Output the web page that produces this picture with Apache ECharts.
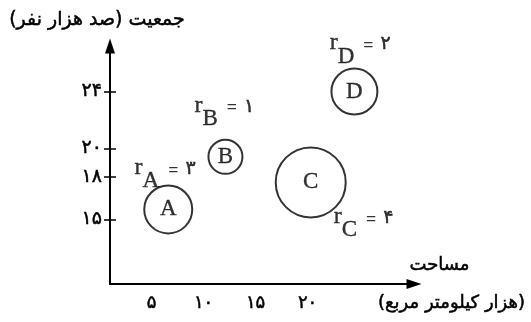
<!DOCTYPE html>
<html>
<head>
<meta charset="utf-8">
<script src="https://cdn.jsdelivr.net/npm/echarts@6/dist/echarts.min.js"></script>
<style>
html,body{margin:0;padding:0;background:#fff;}
#chart{width:531px;height:322px;}
</style>
</head>
<body>
<div id="chart"></div>
<script>
// ---- data ----
const regions = ['A', 'B', 'C', 'D'];
const areaValues = [6.6, 12.1, 20.3, 24.5];        // x: هزار کیلومتر مربع
const populationValues = [15.7, 19.4, 17.6, 24];   // y: صد هزار نفر
const radiusLabels = ['۳', '۱', '۴', '۲'];
const xTickValues = [5, 10, 15, 20];
const xTickLabels = ['۵', '۱۰', '۱۵', '۲۰'];
const yTickValues = [15, 18, 20, 24];
const yTickLabels = ['۱۵', '۱۸', '۲۰', '۲۴'];
const yAxisTitle = 'جمعیت (صد هزار نفر)';
const xAxisTitle1 = 'مساحت';
const xAxisTitle2 = '(هزار کیلومتر مربع)';

// ---- styles (pixel sizes / offsets of annotations) ----
const bubbleDiameter = {A: 48, B: 34, C: 70, D: 46};
const annotationOffset = {A: [-3, -35], B: [-1, -45], C: [53, 41], D: [6, -42]};

const persianFont = 'DejaVu Sans';
const serifFont = 'Liberation Serif';
const ink = '#000';
const heavy = {textBorderColor: ink, textBorderWidth: 0.5};
const semi = {textBorderColor: ink, textBorderWidth: 0.35};

const points = regions.map((r, i) => [areaValues[i], populationValues[i], r, radiusLabels[i]]);

const chart = echarts.init(document.getElementById('chart'), null, {renderer: 'canvas'});

const yLabelMap = {};
yTickValues.forEach((v, i) => { yLabelMap[v] = yTickLabels[i]; });
const xLabelMap = {};
xTickValues.forEach((v, i) => { xLabelMap[v] = xTickLabels[i]; });

const yMin = 10.45, yMax = 27.2;
const xMin = 1, xMax = 30.23;

const axisLineStyle = {color: ink, width: 2};

chart.setOption({
  animation: false,
  backgroundColor: '#fff',
  grid: {left: 110, right: 117, top: 46, bottom: 38, containLabel: false},
  xAxis: {
    type: 'value', min: xMin, max: xMax,
    name: '{a|' + xAxisTitle1 + '}\n{b|' + xAxisTitle2 + '}',
    nameLocation: 'end', nameGap: -36,
    nameTextStyle: {
      align: 'left', verticalAlign: 'middle',
      rich: {
        a: Object.assign({fontFamily: persianFont, fontSize: 18, color: ink, lineHeight: 38, padding: [0, 24, 0, 0], align: 'center'}, heavy),
        b: Object.assign({fontFamily: persianFont, fontSize: 18, color: ink, lineHeight: 38, align: 'center'}, heavy)
      }
    },
    axisLine: {show: true, lineStyle: axisLineStyle, symbol: ['none', 'triangle'], symbolSize: [10, 15]},
    axisTick: {show: false},
    splitLine: {show: false},
    axisLabel: Object.assign({
      customValues: xTickValues,
      formatter: v => xLabelMap[v] || '',
      fontFamily: persianFont, fontSize: 18, color: ink, margin: 10
    }, heavy)
  },
  yAxis: [
    {
      type: 'value', min: yMin, max: yMax,
      name: yAxisTitle, nameLocation: 'end', nameGap: 16,
      nameTextStyle: Object.assign({fontFamily: persianFont, fontSize: 19, color: ink, align: 'center', padding: [0, 26, 0, 0]}, heavy),
      axisLine: {show: true, lineStyle: axisLineStyle, symbol: ['none', 'triangle'], symbolSize: [10, 15]},
      axisTick: {show: true, customValues: yTickValues, length: 6, lineStyle: {color: ink, width: 1.5}},
      splitLine: {show: false},
      axisLabel: Object.assign({
        customValues: yTickValues,
        formatter: v => yLabelMap[v] || '',
        fontFamily: persianFont, fontSize: 19, color: ink, margin: 8
      }, heavy)
    },
    {
      type: 'value', min: yMin, max: yMax, position: 'left',
      axisLine: {show: false},
      axisTick: {show: true, inside: true, customValues: yTickValues, length: 6, lineStyle: {color: ink, width: 1.5}},
      axisLabel: {show: false},
      splitLine: {show: false}
    }
  ],
  series: [
    {
      type: 'scatter',
      yAxisIndex: 0,
      data: points.map(p => ({value: p, symbolSize: bubbleDiameter[p[2]]})),
      symbol: 'circle',
      itemStyle: {color: 'rgba(255,255,255,0)', borderColor: ink, borderWidth: 2},
      label: Object.assign({
        show: true, position: 'inside',
        formatter: p => p.value[2],
        fontFamily: serifFont, fontSize: 23, color: ink
      }, semi),
      emphasis: {disabled: true}
    },
    {
      type: 'scatter',
      yAxisIndex: 0,
      data: points.map(p => ({
        value: p,
        label: {offset: annotationOffset[p[2]]}
      })),
      symbolSize: 0,
      itemStyle: {color: 'rgba(0,0,0,0)'},
      label: {
        show: true, position: 'inside',
        formatter: p => '{r|r}{s|' + p.value[2] + '}{e|=}{n|' + p.value[3] + '}{sp| }',
        rich: {
          r: Object.assign({fontFamily: serifFont, fontSize: 24, color: ink, verticalAlign: 'top'}, semi),
          s: Object.assign({fontFamily: serifFont, fontSize: 23, color: ink, verticalAlign: 'bottom'}, semi),
          e: {fontFamily: serifFont, fontSize: 18, fontWeight: 'bold', color: ink, verticalAlign: 'top', padding: [6, 7, 0, 9]},
          n: Object.assign({fontFamily: persianFont, fontSize: 19, color: ink, verticalAlign: 'top', padding: [4, 0, 0, 0]}, heavy),
          sp: {fontSize: 1, lineHeight: 37}
        }
      },
      emphasis: {disabled: true}
    }
  ]
});
</script>
</body>
</html>
